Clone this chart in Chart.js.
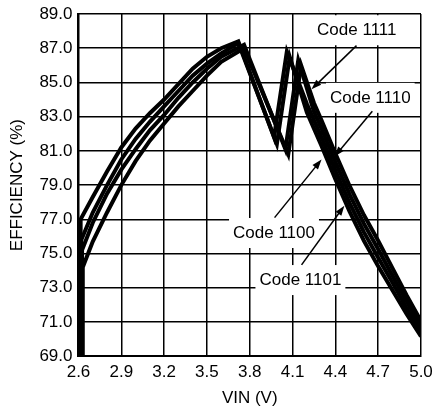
<!DOCTYPE html>
<html lang="en">

<head>
  <meta charset="UTF-8">
  <title>Efficiency vs VIN</title>
  <script src="https://cdn.jsdelivr.net/npm/chart.js@4.4.0/dist/chart.umd.min.js"></script>
  <style>
    html, body { margin: 0; padding: 0; background: #fff; }
    #wrap { width: 435px; height: 409px; }
  </style>
</head>

<body>
  <div id="wrap"><canvas id="myChart"></canvas></div>

  <script>
    // axis ticks
    const xTicks = [2.6, 2.9, 3.2, 3.5, 3.8, 4.1, 4.4, 4.7, 5.0];
    const yTicks = [69, 71, 73, 75, 77, 79, 81, 83, 85, 87, 89];

    // shared VIN points on the rising part
    const riseV = [2.7, 2.8, 2.9, 3.0, 3.1, 3.2, 3.3, 3.4, 3.5, 3.6];
    // VIN points after the dip
    const fallA = [4.2, 4.3, 4.4, 4.5, 4.6, 4.7, 4.8, 4.9, 5.0];
    const fallB = [4.25, 4.3, 4.4, 4.5, 4.6, 4.7, 4.8, 4.9, 5.0];

    // Code 1100
    const c1100V = [2.615, 2.615].concat(riseV, [3.72, 3.97, 4.06], fallA);
    const c1100E = [69, 77.0, 78.3, 79.8, 81.2, 82.3, 83.2, 84.0, 84.9, 85.8, 86.5, 87.0, 87.4, 81.8, 86.8,
      83.75, 81.85, 79.85, 77.95, 76.25, 74.75, 73.3, 71.8, 70.45];
    // Code 1101
    const c1101V = [2.62, 2.62].concat(riseV, [3.72, 3.99, 4.08], fallA);
    const c1101E = [69, 75.8, 77.4, 79.0, 80.5, 81.7, 82.7, 83.6, 84.5, 85.4, 86.1, 86.7, 87.3, 81.4, 86.5,
      83.25, 81.35, 79.35, 77.45, 75.75, 74.25, 72.85, 71.45, 70.15];
    // Code 1110
    const c1110V = [2.625, 2.625].concat(riseV, [3.76, 4.05, 4.14], fallB);
    const c1110E = [69, 75.2, 76.8, 78.5, 79.9, 81.1, 82.2, 83.1, 84.1, 85.0, 85.8, 86.5, 87.2, 81.1, 86.3,
      83.3, 82.35, 80.35, 78.45, 76.75, 75.25, 73.7, 72.2, 70.75];
    // Code 1111
    const c1111V = [2.63, 2.63].concat(riseV, [3.76, 4.07, 4.16], fallB);
    const c1111E = [69, 74.2, 75.7, 77.4, 79.0, 80.4, 81.6, 82.6, 83.6, 84.5, 85.4, 86.2, 87.0, 80.8, 86.0,
      83.8, 82.85, 80.85, 78.95, 77.25, 75.75, 74.15, 72.55, 71.05];

    // callouts: text position and arrow, in axis units
    const callouts = [
      { text: 'Code 1111', v: 4.55, e: 88.05, fromV: 4.548, fromE: 87.15, toV: 4.233, toE: 84.6 },
      { text: 'Code 1110', v: 4.645, e: 84.1, fromV: 4.659, fromE: 83.31, toV: 4.394, toE: 80.67 },
      { text: 'Code 1100', v: 3.97, e: 76.2, fromV: 3.974, fromE: 77.1, toV: 4.303, toE: 80.5 },
      { text: 'Code 1101', v: 4.155, e: 73.45, fromV: 4.163, fromE: 74.34, toV: 4.463, toE: 77.8 }
    ];

    function pts(vs, es) {
      return vs.map((v, i) => ({ x: v, y: es[i] }));
    }

    function line(label, vs, es) {
      return {
        label: label,
        data: pts(vs, es),
        borderColor: '#000',
        borderWidth: 4,
        pointRadius: 0,
        tension: 0,
        fill: false,
        borderJoinStyle: 'miter'
      };
    }

    const calloutPlugin = {
      id: 'callouts',
      beforeDatasetsDraw(chart) {
        const ctx = chart.ctx;
        const xs = chart.scales.x, ys = chart.scales.y;
        ctx.save();
        ctx.font = '17px "Liberation Sans", Arial, sans-serif';
        ctx.textAlign = 'center';
        ctx.textBaseline = 'middle';
        callouts.forEach(c => {
          const tx = xs.getPixelForValue(c.v), ty = ys.getPixelForValue(c.e);
          const w = ctx.measureText(c.text).width;
          ctx.fillStyle = '#fff';
          ctx.fillRect(tx - w / 2 - 4, ty - 15, w + 8, 30);
          ctx.fillStyle = '#000';
          ctx.fillText(c.text, tx, ty);
          // arrow
          const x1 = xs.getPixelForValue(c.fromV), y1 = ys.getPixelForValue(c.fromE);
          const x2 = xs.getPixelForValue(c.toV), y2 = ys.getPixelForValue(c.toE);
          const a = Math.atan2(y2 - y1, x2 - x1);
          ctx.strokeStyle = '#000';
          ctx.lineWidth = 1.5;
          ctx.beginPath();
          ctx.moveTo(x1, y1);
          ctx.lineTo(x2 - 6 * Math.cos(a), y2 - 6 * Math.sin(a));
          ctx.stroke();
          ctx.beginPath();
          ctx.moveTo(x2, y2);
          ctx.lineTo(x2 - 10 * Math.cos(a) + 3.5 * Math.sin(a), y2 - 10 * Math.sin(a) - 3.5 * Math.cos(a));
          ctx.lineTo(x2 - 10 * Math.cos(a) - 3.5 * Math.sin(a), y2 - 10 * Math.sin(a) + 3.5 * Math.cos(a));
          ctx.closePath();
          ctx.fill();
        });
        ctx.restore();
      }
    };

    Chart.defaults.font.family = '"Liberation Sans", Arial, sans-serif';
    Chart.defaults.font.size = 17;
    Chart.defaults.color = '#000';

    let ctx = document.getElementById('myChart').getContext('2d');
    let myChart = new Chart(ctx, {
      type: 'line',
      data: {
        datasets: [
          line('Code 1100', c1100V, c1100E),
          line('Code 1101', c1101V, c1101E),
          line('Code 1110', c1110V, c1110E),
          line('Code 1111', c1111V, c1111E)
        ]
      },
      options: {
        responsive: true,
        maintainAspectRatio: false,
        animation: false,
        layout: { padding: { left: 7, right: 14, top: 14, bottom: 0 } },
        plugins: {
          legend: { display: false },
          tooltip: { enabled: false }
        },
        scales: {
          x: {
            type: 'linear',
            min: 2.6,
            max: 5.0,
            afterBuildTicks: s => { s.ticks = xTicks.map(v => ({ value: v })); },
            afterFit: s => { s.paddingRight = 14; },
            ticks: { padding: 6, callback: v => v.toFixed(1), maxRotation: 0, autoSkip: false },
            grid: { color: '#000', lineWidth: 1.5, drawTicks: false },
            border: { color: '#000', width: 2 },
            title: { display: true, text: 'VIN (V)', padding: { top: 0, bottom: 0 } }
          },
          y: {
            min: 69,
            max: 89,
            afterBuildTicks: s => { s.ticks = yTicks.map(v => ({ value: v })); },
            afterFit: s => { s.paddingTop = 14; },
            ticks: { padding: 6, callback: v => v.toFixed(1), autoSkip: false },
            grid: { color: '#000', lineWidth: 1.5, drawTicks: false },
            border: { color: '#000', width: 2 },
            title: { display: true, text: 'EFFICIENCY (%)', padding: { top: 0, bottom: 6 } }
          }
        }
      },
      plugins: [calloutPlugin]
    });
  </script>

</body>

</html>
